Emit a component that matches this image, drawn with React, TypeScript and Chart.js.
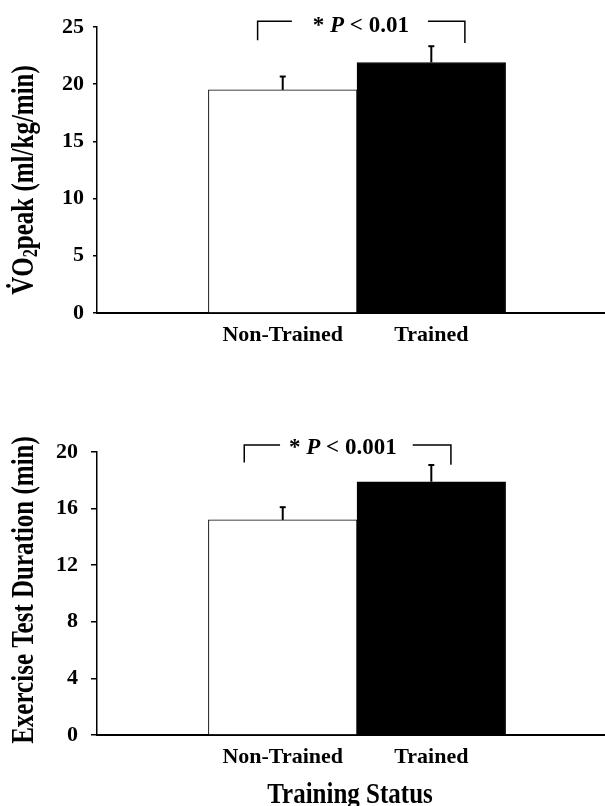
import React, { useEffect, useRef } from 'react';
import { Chart, registerables } from 'chart.js';

Chart.register(...registerables);

// ---------- data ----------
const CATEGORIES = ['Non-Trained', 'Trained'];

const VO2_MEANS = [19.5, 21.9];
const VO2_ERRORS = [1.17, 1.42];
const VO2_TICKS = [0, 5, 10, 15, 20, 25];
const VO2_BRACKET = [25.5, 23.85, 23.6]; // bracket level, left drop end, right drop end
const VO2_P_TEXT = ' < 0.01';

const DUR_MEANS = [15.2, 17.9];
const DUR_ERRORS = [0.9, 1.18];
const DUR_TICKS = [0, 4, 8, 12, 16, 20];
const DUR_BRACKET = [20.5, 19.25, 19.1];
const DUR_P_TEXT = ' < 0.001';

// ---------- style ----------
const FONT = '"Liberation Serif", "Times New Roman", serif';
const X_MIN = -1.25;
const X_MAX = 2.169;

type Seg = { t: string; italic?: boolean; scale?: number; dy?: number };

function segFont(s: Seg, size: number) {
  return `${s.italic ? 'italic ' : ''}bold ${Math.round(size * (s.scale || 1) * 10) / 10}px ${FONT}`;
}

function drawSegs(ctx: CanvasRenderingContext2D, segs: Seg[], size: number, cx: number, y: number) {
  const widths = segs.map((s) => {
    ctx.font = segFont(s, size);
    return ctx.measureText(s.t).width;
  });
  const total = widths.reduce((a, b) => a + b, 0);
  let x = cx - total / 2;
  const starts: number[] = [];
  segs.forEach((s, i) => {
    ctx.font = segFont(s, size);
    starts.push(x);
    ctx.fillText(s.t, x, y + (s.dy || 0) * size);
    x += widths[i];
  });
  return { left: cx - total / 2, right: cx + total / 2, starts, widths };
}

interface OverlayOpts {
  means: number[];
  errors: number[];
  bracket: number[];
  extL: number;
  extR: number;
  textCenter: number;
  gapL: number;
  gapR: number;
  pText: string;
  textDy: number;
  title: Seg[];
  titleX: number;
  titleY: number;
  dotOverFirst?: boolean;
  xTitle?: { text: string; x: number; y: number };
}

function overlay(o: OverlayOpts) {
  return {
    id: 'overlay',
    afterDraw(chart: any) {
      const ctx: CanvasRenderingContext2D = chart.ctx;
      const xs = chart.scales.x;
      const ys = chart.scales.y;
      ctx.save();
      ctx.strokeStyle = '#000';
      ctx.fillStyle = '#000';
      ctx.textBaseline = 'alphabetic';

      // error bars
      o.means.forEach((m, i) => {
        const x = xs.getPixelForValue(i);
        const y0 = ys.getPixelForValue(m);
        const y1 = ys.getPixelForValue(m + o.errors[i]);
        ctx.lineWidth = 2;
        ctx.beginPath();
        ctx.moveTo(x, y0);
        ctx.lineTo(x, y1);
        ctx.stroke();
        ctx.beginPath();
        ctx.moveTo(x - 3, y1);
        ctx.lineTo(x + 3, y1);
        ctx.stroke();
      });

      // significance bracket
      const [lvl, dropL, dropR] = o.bracket;
      const yl = ys.getPixelForValue(lvl);
      const xl = xs.getPixelForValue(0 + o.extL);
      const xr = xs.getPixelForValue(1 + o.extR);
      const tx = xs.getPixelForValue(o.textCenter);
      const t = drawSegs(
        ctx,
        [{ t: '* ' }, { t: 'P', italic: true }, { t: o.pText }],
        23,
        tx,
        yl + o.textDy
      );
      ctx.lineWidth = 1.5;
      ctx.beginPath();
      ctx.moveTo(xl, ys.getPixelForValue(dropL));
      ctx.lineTo(xl, yl);
      ctx.lineTo(t.left - o.gapL, yl);
      ctx.moveTo(t.right + o.gapR, yl);
      ctx.lineTo(xr, yl);
      ctx.lineTo(xr, ys.getPixelForValue(dropR));
      ctx.stroke();

      // y title (rotated)
      ctx.save();
      ctx.translate(o.titleX, o.titleY);
      ctx.rotate(-Math.PI / 2);
      ctx.scale(1, 1.25);
      const tt = drawSegs(ctx, o.title, 25, 0, 0);
      if (o.dotOverFirst) {
        const cxv = tt.starts[0] + tt.widths[0] / 2;
        ctx.beginPath();
        ctx.arc(cxv, -25 * 0.662 - 3.2, 1.9, 0, Math.PI * 2);
        ctx.fill();
      }
      ctx.restore();

      // x title
      if (o.xTitle) {
        ctx.save();
        ctx.translate(o.xTitle.x, o.xTitle.y);
        ctx.scale(1, 1.15);
        drawSegs(ctx, [{ t: o.xTitle.text }], 25, 0, 0);
        ctx.restore();
      }
      ctx.restore();
    },
  };
}

function makeConfig(
  means: number[],
  ticks: number[],
  padTop: number,
  xHeight: number,
  yTickLen: number,
  yTickPad: number,
  plugin: any
) {
  return {
    type: 'bar' as const,
    data: {
      datasets: [
        {
          data: CATEGORIES.map((_, i) => ({ x: i, y: means[i] })),
          backgroundColor: ['#ffffff', '#000000'],
          borderColor: '#000000',
          borderWidth: 1,
          categoryPercentage: 1,
          barPercentage: 1,
        },
      ],
    },
    options: {
      responsive: false,
      animation: false as const,
      events: [],
      layout: { padding: { top: padTop, left: 0, right: 0, bottom: 0 } },
      plugins: { legend: { display: false }, tooltip: { enabled: false } },
      scales: {
        x: {
          type: 'linear' as const,
          min: X_MIN,
          max: X_MAX,
          offset: false,
          afterBuildTicks: (s: any) => {
            s.ticks = CATEGORIES.map((_, i) => ({ value: i }));
          },
          afterFit: (s: any) => {
            s.height = xHeight;
          },
          ticks: {
            callback: (v: any) => CATEGORIES[v] ?? '',
            autoSkip: false,
            maxRotation: 0,
            color: '#000',
            padding: 9,
            font: { family: FONT, size: 22, weight: 'bold' as const },
          },
          grid: { display: true, drawOnChartArea: false, drawTicks: false, offset: false },
          border: { display: true, color: '#000', width: 2 },
        },
        y: {
          type: 'linear' as const,
          min: ticks[0],
          max: ticks[ticks.length - 1],
          afterBuildTicks: (s: any) => {
            s.ticks = ticks.map((v) => ({ value: v }));
          },
          afterFit: (s: any) => {
            s.width = 97;
          },
          ticks: {
            color: '#000',
            padding: yTickPad,
            font: { family: FONT, size: 22, weight: 'bold' as const },
          },
          grid: {
            display: true,
            drawOnChartArea: false,
            drawTicks: true,
            tickLength: yTickLen,
            color: '#000',
            lineWidth: 1.5,
          },
          border: { display: true, color: '#000', width: 1.5 },
        },
      },
    },
    plugins: [plugin],
  };
}

function ChartCanvas({ config, width, height, top }: { config: any; width: number; height: number; top: number }) {
  const ref = useRef<HTMLCanvasElement | null>(null);
  useEffect(() => {
    if (!ref.current) return;
    const chart = new Chart(ref.current, config);
    return () => chart.destroy();
  }, [config]);
  return (
    <canvas
      ref={ref}
      width={width}
      height={height}
      style={{ position: 'absolute', left: 0, top, width, height, display: 'block' }}
    />
  );
}

const topConfig = makeConfig(
  VO2_MEANS,
  VO2_TICKS,
  27,
  67,
  4,
  9,
  overlay({
    means: VO2_MEANS,
    errors: VO2_ERRORS,
    bracket: VO2_BRACKET,
    extL: -0.169,
    extR: 0.226,
    textCenter: 0.526,
    gapL: 21,
    gapR: 19,
    pText: VO2_P_TEXT,
    textDy: 10.5,
    title: [{ t: 'V' }, { t: 'O' }, { t: '2', scale: 0.65, dy: 0.14 }, { t: 'peak (ml/kg/min)' }],
    titleX: 33,
    titleY: 180,
    dotOverFirst: true,
  })
);

const bottomConfig = makeConfig(
  DUR_MEANS,
  DUR_TICKS,
  72,
  71,
  6,
  13,
  overlay({
    means: DUR_MEANS,
    errors: DUR_ERRORS,
    bracket: DUR_BRACKET,
    extL: -0.259,
    extR: 0.132,
    textCenter: 0.405,
    gapL: 9,
    gapR: 16,
    pText: DUR_P_TEXT,
    textDy: 9.5,
    title: [{ t: 'Exercise Test Duration (min)' }],
    titleX: 33,
    titleY: 210,
    xTitle: { text: 'Training Status', x: 350, y: 423 },
  })
);

export default function App() {
  return (
    <div style={{ position: 'absolute', left: 0, top: 0, width: 605, height: 806, background: '#fff', overflow: 'hidden' }}>
      <ChartCanvas config={topConfig} width={605} height={380} top={0} />
      <ChartCanvas config={bottomConfig} width={605} height={426} top={380} />
    </div>
  );
}
